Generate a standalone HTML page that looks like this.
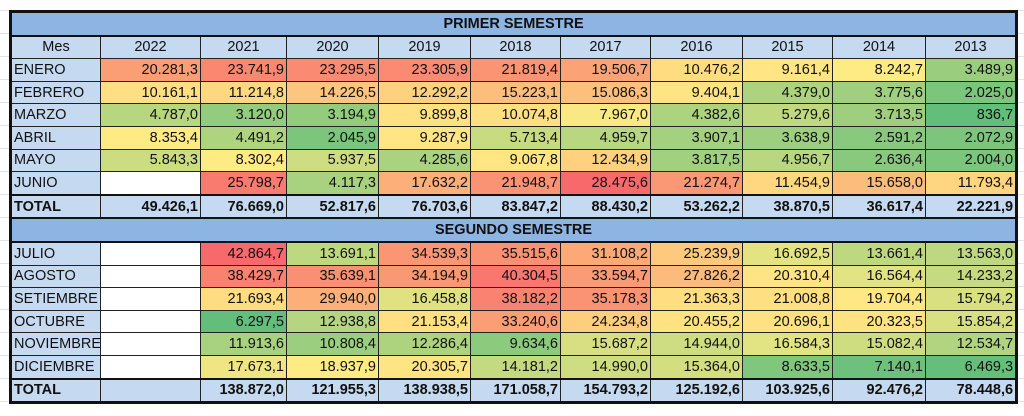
<!DOCTYPE html>
<html><head><meta charset="utf-8">
<style>
html,body{margin:0;padding:0;background:#fff;width:1024px;height:416px;overflow:hidden}
body{background-image:linear-gradient(#e3e3e3 1px,transparent 1px);background-size:100% 23px;background-position:0 10px}
table{position:absolute;left:9px;top:10px;width:1009px;table-layout:fixed;border-collapse:collapse;font-family:"Liberation Sans",sans-serif;font-size:14.5px;color:#111;border:3px solid #111}
td{border:1px solid #222;height:21.6px;padding:0 2px;text-align:right;white-space:nowrap;line-height:20px;overflow:hidden}
td.m{text-align:left;background:#c5d9f1;padding-left:2px}
tr.h td{background:#c5d9f1;text-align:center}
tr.t td{background:#8db4e2;text-align:center;font-weight:bold;border-top:2px solid #111;border-bottom:2px solid #111}
tr.tot td{background:#c5d9f1;font-weight:bold;border-top:2px solid #111;border-bottom:2px solid #111}
td.e{background:#fff}
</style></head><body>
<table id="tb">
<colgroup><col style="width:90px"><col style="width:100px"><col style="width:86px"><col style="width:92px"><col style="width:92px"><col style="width:90px"><col style="width:90px"><col style="width:92px"><col style="width:90px"><col style="width:93px"><col style="width:91px"></colgroup>
<tr class="t"><td colspan="11">PRIMER SEMESTRE</td></tr>
<tr class="h"><td>Mes</td><td>2022</td><td>2021</td><td>2020</td><td>2019</td><td>2018</td><td>2017</td><td>2016</td><td>2015</td><td>2014</td><td>2013</td></tr>
<tr class="a"><td class="m">ENERO</td><td>20.281,3</td><td>23.741,9</td><td>23.295,5</td><td>23.305,9</td><td>21.819,4</td><td>19.506,7</td><td>10.476,2</td><td>9.161,4</td><td>8.242,7</td><td>3.489,9</td></tr>
<tr class="a"><td class="m">FEBRERO</td><td>10.161,1</td><td>11.214,8</td><td>14.226,5</td><td>12.292,2</td><td>15.223,1</td><td>15.086,3</td><td>9.404,1</td><td>4.379,0</td><td>3.775,6</td><td>2.025,0</td></tr>
<tr class="a"><td class="m">MARZO</td><td>4.787,0</td><td>3.120,0</td><td>3.194,9</td><td>9.899,8</td><td>10.074,8</td><td>7.967,0</td><td>4.382,6</td><td>5.279,6</td><td>3.713,5</td><td>836,7</td></tr>
<tr class="a"><td class="m">ABRIL</td><td>8.353,4</td><td>4.491,2</td><td>2.045,9</td><td>9.287,9</td><td>5.713,4</td><td>4.959,7</td><td>3.907,1</td><td>3.638,9</td><td>2.591,2</td><td>2.072,9</td></tr>
<tr class="a"><td class="m">MAYO</td><td>5.843,3</td><td>8.302,4</td><td>5.937,5</td><td>4.285,6</td><td>9.067,8</td><td>12.434,9</td><td>3.817,5</td><td>4.956,7</td><td>2.636,4</td><td>2.004,0</td></tr>
<tr class="a"><td class="m">JUNIO</td><td class="e"></td><td>25.798,7</td><td>4.117,3</td><td>17.632,2</td><td>21.948,7</td><td>28.475,6</td><td>21.274,7</td><td>11.454,9</td><td>15.658,0</td><td>11.793,4</td></tr>
<tr class="tot"><td style="text-align:left">TOTAL</td><td>49.426,1</td><td>76.669,0</td><td>52.817,6</td><td>76.703,6</td><td>83.847,2</td><td>88.430,2</td><td>53.262,2</td><td>38.870,5</td><td>36.617,4</td><td>22.221,9</td></tr>
<tr class="t"><td colspan="11">SEGUNDO SEMESTRE</td></tr>
<tr class="b"><td class="m">JULIO</td><td class="e"></td><td>42.864,7</td><td>13.691,1</td><td>34.539,3</td><td>35.515,6</td><td>31.108,2</td><td>25.239,9</td><td>16.692,5</td><td>13.661,4</td><td>13.563,0</td></tr>
<tr class="b"><td class="m">AGOSTO</td><td class="e"></td><td>38.429,7</td><td>35.639,1</td><td>34.194,9</td><td>40.304,5</td><td>33.594,7</td><td>27.826,2</td><td>20.310,4</td><td>16.564,4</td><td>14.233,2</td></tr>
<tr class="b"><td class="m">SETIEMBRE</td><td class="e"></td><td>21.693,4</td><td>29.940,0</td><td>16.458,8</td><td>38.182,2</td><td>35.178,3</td><td>21.363,3</td><td>21.008,8</td><td>19.704,4</td><td>15.794,2</td></tr>
<tr class="b"><td class="m">OCTUBRE</td><td class="e"></td><td>6.297,5</td><td>12.938,8</td><td>21.153,4</td><td>33.240,6</td><td>24.234,8</td><td>20.455,2</td><td>20.696,1</td><td>20.323,5</td><td>15.854,2</td></tr>
<tr class="b"><td class="m">NOVIEMBRE</td><td class="e"></td><td>11.913,6</td><td>10.808,4</td><td>12.286,4</td><td>9.634,6</td><td>15.687,2</td><td>14.944,0</td><td>16.584,3</td><td>15.082,4</td><td>12.534,7</td></tr>
<tr class="b"><td class="m">DICIEMBRE</td><td class="e"></td><td>17.673,1</td><td>18.937,9</td><td>20.305,7</td><td>14.181,2</td><td>14.990,0</td><td>15.364,0</td><td>8.633,5</td><td>7.140,1</td><td>6.469,3</td></tr>
<tr class="tot"><td style="text-align:left">TOTAL</td><td></td><td>138.872,0</td><td>121.955,3</td><td>138.938,5</td><td>171.058,7</td><td>154.793,2</td><td>125.192,6</td><td>103.925,6</td><td>92.476,2</td><td>78.448,6</td></tr>
</table>
<script>
function num(s){return parseFloat(s.replace(/\./g,'').replace(',','.'));}
function lerp(a,b,t){return a.map((v,i)=>Math.round(v+(b[i]-v)*t));}
var G=[99,190,123],Y=[255,235,132],R=[248,105,107];
['a','b'].forEach(function(c){
 var cells=[];document.querySelectorAll('tr.'+c+' td:not(.m):not(.e)').forEach(function(td){cells.push(td);});
 var v=cells.map(td=>num(td.textContent)).sort((x,y)=>x-y);
 var mn=v[0],mx=v[v.length-1],md=v[Math.floor(v.length/2)];
 cells.forEach(function(td){var x=num(td.textContent),col;
  if(x<=md)col=lerp(G,Y,(x-mn)/(md-mn));else col=lerp(Y,R,(x-md)/(mx-md));
  td.style.background='rgb('+col.join(',')+')';});
});
</script>
</body></html>
